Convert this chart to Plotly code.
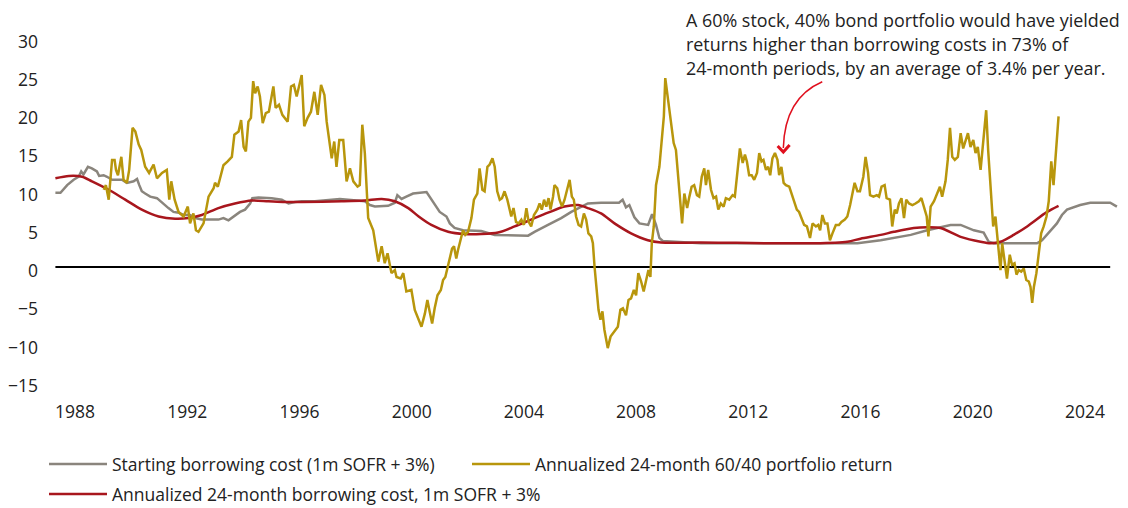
import plotly.graph_objects as go

# ---------------- data ----------------
gold_years = [1989.02,1989.10,1989.20,1989.32,1989.41,1989.46,1989.53,1989.65,1989.73,1989.85,1989.93,
1990.05,1990.15,1990.27,1990.36,1990.50,1990.64,1990.80,1990.92,1991.10,1991.27,1991.36,1991.43,1991.55,
1991.69,1991.87,1992.02,1992.10,1992.22,1992.31,1992.40,1992.58,1992.76,1992.94,1992.99,1993.09,1993.17,
1993.29,1993.44,1993.59,1993.68,1993.83,1993.92,1994.01,1994.09,1994.18,1994.27,1994.35,1994.42,1994.51,
1994.59,1994.69,1994.80,1994.91,1995.07,1995.15,1995.27,1995.39,1995.58,1995.70,1995.80,1995.90,1996.08,
1996.17,1996.29,1996.41,1996.53,1996.65,1996.77,1996.89,1996.97,1997.05,1997.15,1997.24,1997.32,1997.42,
1997.56,1997.68,1997.80,1997.92,1998.07,1998.15,1998.24,1998.33,1998.45,1998.63,1998.81,1998.93,1999.04,
1999.14,1999.28,1999.40,1999.46,1999.61,1999.70,1999.81,1999.99,2000.11,2000.23,2000.35,2000.47,2000.56,
2000.64,2000.73,2000.82,2000.92,2001.04,2001.12,2001.20,2001.30,2001.36,2001.44,2001.51,2001.59,2001.65,
2001.75,2001.83,2001.91,2002.01,2002.13,2002.22,2002.34,2002.42,2002.52,2002.60,2002.70,2002.78,2002.88,
2002.96,2003.05,2003.14,2003.22,2003.31,2003.41,2003.55,2003.63,2003.72,2003.81,2003.91,2004.00,2004.09,
2004.17,2004.26,2004.36,2004.48,2004.56,2004.64,2004.72,2004.80,2004.88,2004.95,2005.04,2005.09,2005.19,
2005.27,2005.36,2005.45,2005.54,2005.63,2005.71,2005.78,2005.86,2005.95,2006.04,2006.14,2006.22,2006.30,
2006.40,2006.46,2006.52,2006.58,2006.66,2006.73,2006.80,2006.87,2006.99,2007.09,2007.17,2007.29,2007.35,
2007.44,2007.53,2007.64,2007.73,2007.82,2007.92,2008.00,2008.08,2008.18,2008.27,2008.36,2008.44,2008.51,
2008.56,2008.63,2008.71,2008.83,2008.91,2008.99,2009.04,2009.15,2009.25,2009.34,2009.42,2009.51,2009.58,
2009.64,2009.72,2009.82,2009.90,2009.98,2010.07,2010.17,2010.25,2010.34,2010.43,2010.49,2010.57,2010.67,
2010.76,2010.85,2010.93,2011.02,2011.12,2011.20,2011.32,2011.44,2011.52,2011.59,2011.70,2011.80,2011.88,
2011.95,2012.03,2012.12,2012.21,2012.31,2012.39,2012.47,2012.54,2012.63,2012.71,2012.78,2012.86,2012.95,
2013.04,2013.10,2013.18,2013.26,2013.34,2013.46,2013.54,2013.63,2013.73,2013.81,2013.90,2013.99,2014.09,
2014.20,2014.29,2014.41,2014.49,2014.56,2014.64,2014.73,2014.82,2014.91,2015.00,2015.12,2015.23,2015.32,
2015.44,2015.53,2015.63,2015.71,2015.79,2015.89,2015.98,2016.10,2016.18,2016.27,2016.34,2016.46,2016.58,
2016.66,2016.75,2016.86,2016.93,2017.05,2017.13,2017.22,2017.29,2017.37,2017.46,2017.55,2017.63,2017.73,
2017.85,2017.96,2018.08,2018.17,2018.26,2018.36,2018.42,2018.50,2018.62,2018.74,2018.83,2018.91,2019.03,
2019.11,2019.19,2019.27,2019.36,2019.47,2019.57,2019.66,2019.74,2019.83,2019.92,2020.02,2020.10,2020.18,
2020.28,2020.39,2020.48,2020.55,2020.63,2020.73,2020.81,2020.89,2020.99,2021.05,2021.13,2021.22,2021.32,
2021.40,2021.49,2021.56,2021.64,2021.73,2021.82,2021.91,2022.00,2022.06,2022.12,2022.18,2022.27,2022.36,
2022.44,2022.53,2022.63,2022.71,2022.80,2022.88,2022.98,2023.06]
gold_vals = [10.1,10.7,8.8,14.0,14.0,12.7,12.0,14.4,11.4,11.0,12.7,
18.2,17.7,16.0,15.3,13.1,12.3,13.4,11.6,12.3,12.7,8.8,11.2,8.8,
7.2,6.6,7.9,5.7,7.0,4.8,4.6,5.7,9.2,10.3,11.0,10.5,11.6,
13.3,13.8,14.4,17.3,17.7,19.2,15.7,15.1,19.0,19.5,24.3,22.7,23.6,
22.3,18.8,20.1,20.3,23.6,20.8,21.2,19.9,19.0,23.6,23.8,22.3,25.1,
18.4,19.5,20.3,22.9,19.9,23.8,22.5,19.0,16.6,14.2,16.4,13.1,16.6,
16.6,11.2,12.9,11.2,10.5,10.7,18.6,14.9,6.4,4.8,0.7,2.7,0.5,
1.8,-0.8,-0.4,-1.3,-1.5,-0.8,-3.2,-3.0,-5.6,-6.7,-7.8,-6.1,-4.3,
-5.8,-7.4,-5.4,-3.7,-3.0,-1.7,-1.3,0.3,1.3,2.4,2.7,1.1,2.2,
3.8,4.8,4.2,4.6,6.4,8.8,9.6,12.9,10.1,9.9,13.1,13.4,14.2,
13.1,9.9,8.8,9.0,9.9,8.8,6.6,7.7,5.9,5.7,6.2,5.5,7.7,
5.9,5.3,6.8,7.5,8.3,7.5,8.8,7.9,9.0,7.5,9.2,10.7,10.3,
8.8,7.9,8.8,10.1,11.4,9.2,8.8,6.6,5.5,5.3,7.0,6.2,4.4,
4.0,3.1,0.0,-2.6,-5.6,-6.9,-5.8,-8.2,-10.6,-9.1,-8.7,-8.2,-7.8,
-5.6,-5.4,-6.3,-4.3,-4.1,-3.0,-3.7,-0.8,-1.9,-3.2,-1.7,-0.4,-1.3,
3.1,5.3,10.7,13.1,16.6,19.7,24.7,21.4,18.4,16.2,15.3,11.8,8.8,
5.7,9.6,7.7,9.2,10.5,10.7,9.4,9.2,11.8,12.9,10.7,12.7,10.1,
9.0,9.2,7.5,8.3,7.9,9.0,8.8,9.4,9.2,11.6,15.5,13.6,14.7,
13.8,12.0,12.0,11.4,12.3,14.9,13.8,14.0,12.7,13.1,12.0,14.2,14.9,
14.0,12.0,13.1,11.0,10.7,10.5,9.6,8.6,7.5,7.2,6.2,5.5,5.3,
3.8,5.7,5.3,5.5,4.8,6.8,5.7,5.7,3.5,4.4,5.5,5.5,5.9,
6.2,6.6,8.1,9.6,11.0,9.9,9.9,11.8,14.4,12.3,9.4,9.2,9.4,
9.2,10.5,10.7,9.0,8.8,5.3,7.5,7.0,8.3,9.0,6.4,8.8,8.3,
8.1,8.3,8.6,9.0,7.9,6.6,4.0,7.9,8.6,9.6,10.5,9.2,11.2,
14.0,18.2,14.4,14.0,14.4,17.5,15.5,16.4,17.5,15.7,16.6,14.9,15.7,
12.7,17.0,20.5,15.3,10.5,5.3,6.6,3.1,-0.4,3.1,0.9,-1.5,1.6,
0.3,0.5,-1.0,-0.4,-0.6,-0.2,-1.7,-1.9,-2.6,-4.7,-2.6,-0.8,1.8,
4.4,5.3,6.6,8.6,13.8,10.7,15.1,19.7]

red_years = [1987.30,1987.78,1988.25,1988.60,1989.20,1989.79,1990.38,1990.98,1991.57,1992.05,1992.52,
1993.11,1993.70,1994.30,1994.89,1995.48,1996.08,1997.50,1998.33,1998.93,1999.40,1999.88,2000.25,2000.70,
2001.30,2001.89,2002.48,2003.08,2003.67,2004.26,2004.86,2005.45,2005.93,2006.28,2006.75,2007.23,2007.82,
2008.42,2008.89,2010.31,2014.35,2015.53,2016.00,2016.72,2017.19,2017.90,2018.38,2018.85,2019.60,2020.28,
2020.63,2020.99,2021.46,2021.94,2022.65,2023.06]
red_vals = [11.6,11.9,11.8,11.2,10.1,8.8,7.5,6.6,6.3,6.4,6.8,
7.7,8.3,8.7,8.6,8.5,8.5,8.6,8.7,8.9,8.6,7.7,6.6,5.5,
4.6,4.3,4.3,4.5,5.3,6.2,7.1,7.9,8.1,7.7,7.0,5.7,4.4,
3.5,3.2,3.2,3.1,3.3,3.7,4.2,4.6,5.1,5.2,5.1,3.9,3.3,
3.1,3.3,4.2,5.3,7.2,8.0]

gray_years = [1987.30,1987.48,1987.72,1987.95,1988.13,1988.22,1988.30,1988.46,1988.60,1988.78,1988.86,
1989.02,1989.14,1989.32,1989.67,1989.85,1990.09,1990.21,1990.29,1990.38,1990.50,1990.68,1990.92,1991.10,
1991.33,1991.51,1991.69,1991.87,1992.10,1992.28,1992.52,1993.11,1993.29,1993.47,1993.65,1993.88,1994.06,
1994.24,1994.32,1994.54,1995.01,1995.37,1995.61,1995.84,1996.08,1996.55,1997.44,1998.33,1998.51,1998.69,
1999.16,1999.40,1999.49,1999.64,1999.81,2000.05,2000.53,2000.64,2000.82,2001.00,2001.24,2001.36,2001.53,
2001.83,2002.48,2002.96,2004.15,2004.38,2004.86,2005.33,2005.69,2005.97,2006.28,2006.75,2007.39,2007.52,
2007.64,2007.76,2007.94,2008.12,2008.43,2008.57,2008.71,2008.83,2008.95,2010.31,2015.89,2016.72,2017.79,
2018.38,2019.21,2019.57,2020.04,2020.39,2020.57,2020.75,2022.29,2022.47,2022.70,2023.00,2023.18,2023.36,
2023.83,2024.19,2024.90,2025.14]
gray_vals = [9.7,9.7,10.7,11.4,11.8,12.5,12.1,13.1,12.9,12.5,11.9,
12.0,11.8,11.4,11.4,11.0,11.2,11.5,10.7,9.9,9.6,9.2,9.0,8.4,
7.7,7.2,7.1,6.8,6.8,6.4,6.2,6.2,6.4,6.1,6.6,7.2,7.5,
8.3,9.0,9.1,9.0,8.8,8.3,8.5,8.6,8.6,8.9,8.6,8.1,7.9,
8.0,8.4,9.4,8.9,9.2,9.6,9.8,9.2,8.1,7.2,6.6,5.7,5.1,
4.8,4.7,4.2,4.1,4.6,5.5,6.4,7.2,7.7,8.3,8.4,8.4,8.8,
7.8,8.1,6.5,5.7,5.5,6.9,5.5,3.8,3.4,3.1,3.1,3.5,4.2,
4.8,5.5,5.5,4.8,4.5,3.3,3.1,3.1,3.5,4.4,5.7,6.8,7.5,
8.1,8.4,8.4,7.9]

x_tick_years = [1988, 1992, 1996, 2000, 2004, 2008, 2012, 2016, 2020, 2024]
y_tick_vals = [-15, -10, -5, 0, 5, 10, 15, 20, 25, 30]

names = {
    "gray": "Starting borrowing cost (1m SOFR + 3%)",
    "gold": "Annualized 24-month 60/40 portfolio return",
    "red": "Annualized 24-month borrowing cost, 1m SOFR + 3%",
}
note_lines = [
    "A 60% stock, 40% bond portfolio would have yielded",
    "returns higher than borrowing costs in 73% of",
    "24-month periods, by an average of 3.4% per year.",
]

# ---------------- style ----------------
GRAY = "#8A857D"
GOLD = "#B8960C"
RED = "#A8161D"
ARROW = "#E0101E"
TXT = "#222222"
FONT = "Open Sans"
FS = 17.5

W, H = 1128, 508
ML, MR, MT, MB = 52, 8, 33, 115
PW, PH = W - ML - MR, H - MT - MB

def px(x):
    return (x - ML) / PW

def py(y):
    return (H - MB - y) / PH

fig = go.Figure()
fig.add_trace(go.Scatter(x=gray_years, y=gray_vals, mode="lines", name=names["gray"],
                         line=dict(color=GRAY, width=2.5), legend="legend"))
fig.add_trace(go.Scatter(x=red_years, y=red_vals, mode="lines", name=names["red"],
                         line=dict(color=RED, width=2.5, shape="spline", smoothing=0.8),
                         legend="legend3"))
fig.add_trace(go.Scatter(x=gold_years, y=gold_vals, mode="lines", name=names["gold"],
                         line=dict(color=GOLD, width=2.5), legend="legend2"))

leg_common = dict(orientation="h", xref="container", yref="container", xanchor="left",
                  yanchor="middle", font=dict(family=FONT, size=FS, color=TXT),
                  bgcolor="rgba(0,0,0,0)", itemwidth=58)

fig.update_layout(
    width=W, height=H,
    margin=dict(l=ML, r=MR, t=MT, b=MB),
    paper_bgcolor="white", plot_bgcolor="white",
    font=dict(family=FONT, size=FS, color=TXT),
    showlegend=True,
    legend=dict(x=44 / W, y=1 - 464 / H, **leg_common),
    legend2=dict(x=467 / W, y=1 - 464 / H, **leg_common),
    legend3=dict(x=44 / W, y=1 - 494 / H, **leg_common),
    xaxis=dict(range=[1987.25, 2025.25], tickmode="array", tickvals=x_tick_years,
               ticktext=[str(v) for v in x_tick_years], showgrid=False, zeroline=False,
               showline=False, ticks="", ticklabelstandoff=6,
               tickfont=dict(family=FONT, size=FS, color=TXT)),
    yaxis=dict(range=[-16.47, 30.59], tickmode="array", tickvals=y_tick_vals,
               showgrid=False, zeroline=False, showline=False, ticks="",
               ticklabelstandoff=15, ticklabelshift=4,
               tickfont=dict(family=FONT, size=FS, color=TXT)),
    hovermode=False,
)

# zero line
fig.add_shape(type="line", xref="x", yref="y", x0=1987.3, x1=2024.9, y0=0, y1=0,
              line=dict(color="black", width=2), layer="below")

# annotation text
for t, yy in zip(note_lines, [20, 44, 68]):
    fig.add_annotation(text=t, xref="paper", yref="paper", x=px(683), y=py(yy),
                       xanchor="left", yanchor="middle", showarrow=False,
                       font=dict(family=FONT, size=17.9, color=TXT))

# curved arrow
p0, c, p1 = (821.7, 81.7), (784, 98), (782.7, 148)
fig.add_shape(type="path", xref="paper", yref="paper",
              path=f"M {px(p0[0])},{py(p0[1])} Q {px(c[0])},{py(c[1])} {px(p1[0])},{py(p1[1])}",
              line=dict(color=ARROW, width=1.5))
fig.add_shape(type="path", xref="paper", yref="paper",
              path=f"M {px(777)},{py(146)} L {px(782.7)},{py(152)} L {px(789)},{py(145)}",
              line=dict(color=ARROW, width=3))

fig.write_html("out.html", config={"displayModeBar": False},
               post_script="document.body.style.margin='0';document.body.style.overflow='hidden';")
